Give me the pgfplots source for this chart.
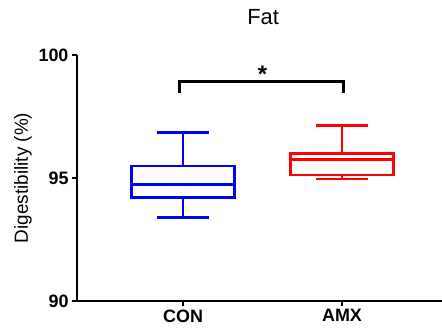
\documentclass[border=0pt]{standalone}
\usepackage{fontspec}
\setmainfont{Liberation Sans}
\usepackage{pgfplots}
\pgfplotsset{compat=1.18}
\definecolor{myblue}{RGB}{0,0,255}
\definecolor{myred}{RGB}{255,0,0}
% #1 colour, #2 position, #3 lower whisker, #4 Q1, #5 median, #6 Q3, #7 upper whisker
\newcommand\mybox[7]{%
  \addplot[#1, line width=2.5pt, line cap=rect, mark=none] coordinates {(#2-0.325,#4) (#2+0.325,#4) (#2+0.325,#6) (#2-0.325,#6) (#2-0.325,#4)};
  \addplot[#1, line width=2.5pt, mark=none] coordinates {(#2-0.325,#5) (#2+0.325,#5)};
  \addplot[#1, line width=2.5pt, mark=none] coordinates {(#2,#6) (#2,#7)};
  \addplot[#1, line width=2.5pt, mark=none] coordinates {(#2-0.1625,#7) (#2+0.1625,#7)};
  \addplot[#1, line width=2.5pt, mark=none] coordinates {(#2,#4) (#2,#3)};
  \addplot[#1, line width=2.5pt, mark=none] coordinates {(#2-0.1625,#3) (#2+0.1625,#3)};
}
\begin{document}
\begin{tikzpicture}
\useasboundingbox (-77bp,-33bp) rectangle (365bp,301bp);
\begin{axis}[
  at={(0,0)}, anchor=south west,
  scale only axis, width=365bp, height=246bp,
  xmin=-0.667, xmax=1.629, ymin=90, ymax=100,
  axis x line*=bottom, axis y line*=left,
  axis line style={line width=1.8pt, -},
  ytick={90,95,100}, xtick={0,1}, xticklabels={CON,AMX},
  tick align=outside, major tick length=5bp,
  tick style={line width=1.8pt, black},
  ticklabel style={font=\fontsize{18}{20}\selectfont\bfseries},
  /pgf/number format/assume math mode=true,
  clip=false,
  ylabel={Digestibility (\%)},
  ylabel style={font=\fontsize{19}{22}\selectfont, at={(axis description cs:-0.1233,0.5)}, anchor=south, inner sep=0pt},
]
\mybox{myblue}{0}{93.40}{94.20}{94.74}{95.49}{96.84}
\mybox{myred}{1}{94.96}{95.12}{95.76}{96.00}{97.13}
\addplot[black, line width=3pt, mark=none] coordinates {(-0.02,98.44) (-0.02,98.91) (1.01,98.91) (1.01,98.44)};
\node[anchor=base, font=\fontsize{24}{26}\selectfont\bfseries, inner sep=0pt] at (axis cs:0.5,98.9) {*};
\node[anchor=base, font=\fontsize{22}{24}\selectfont, inner sep=0pt] at (rel axis cs:0.51,1) [yshift=30bp] {Fat};
\end{axis}
\end{tikzpicture}
\end{document}
